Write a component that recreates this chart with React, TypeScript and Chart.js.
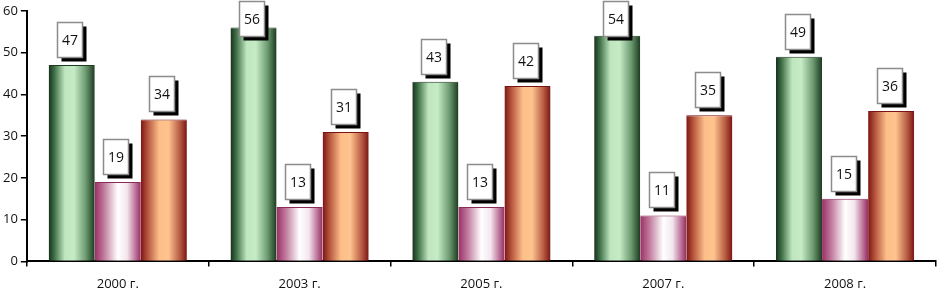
import React, { useEffect, useRef } from "react";
import { Chart, registerables } from "chart.js";

Chart.register(...registerables);

const categories = ["2000 г.", "2003 г.", "2005 г.", "2007 г.", "2008 г."];
const seriesGreen = [47, 56, 43, 54, 49];
const seriesPink = [19, 13, 13, 11, 15];
const seriesOrange = [34, 31, 42, 35, 36];

const FONT = "'Open Sans', 'Liberation Sans', sans-serif";

const gradientStops: [number, string][][] = [
  [
    [0, "#17301b"],
    [0.12, "#3d6e45"],
    [0.35, "#bfe6bf"],
    [0.55, "#c6ebc6"],
    [0.8, "#6e9c72"],
    [1, "#1c3a20"],
  ],
  [
    [0, "#9a2f65"],
    [0.2, "#c07a9c"],
    [0.5, "#ffffff"],
    [0.7, "#f3e6ee"],
    [0.9, "#b86a92"],
    [1, "#952d62"],
  ],
  [
    [0, "#7d1414"],
    [0.15, "#b5553d"],
    [0.4, "#fdbf8a"],
    [0.6, "#fec38e"],
    [0.85, "#b65a42"],
    [1, "#7a1414"],
  ],
];

const gradientPlugin = {
  id: "barGradients",
  beforeDatasetsDraw(chart: any) {
    const ctx = chart.ctx;
    chart.data.datasets.forEach((_: any, di: number) => {
      const meta = chart.getDatasetMeta(di);
      meta.data.forEach((el: any) => {
        const left = el.x - el.width / 2;
        const right = el.x + el.width / 2;
        const g = ctx.createLinearGradient(left, 0, right, 0);
        gradientStops[di].forEach(([p, c]) => g.addColorStop(p, c));
        el.options = { ...el.options, backgroundColor: g };
      });
    });
  },
};

const labelPlugin = {
  id: "boxLabels",
  afterDatasetsDraw(chart: any) {
    const ctx = chart.ctx;
    const bw = 25;
    const bh = 35;
    const sh = 4;
    ctx.save();
    chart.data.datasets.forEach((ds: any, di: number) => {
      const meta = chart.getDatasetMeta(di);
      meta.data.forEach((el: any, i: number) => {
        const v = ds.data[i];
        const cx = el.x - 2;
        let top = el.y - 43;
        if (top < 1) top = 1;
        const left = Math.round(cx - bw / 2) + 0.5;
        top = Math.round(top) + 0.5;
        ctx.fillStyle = "#000";
        ctx.fillRect(left + sh, top + sh, bw, bh);
        ctx.fillStyle = "#fff";
        ctx.fillRect(left, top, bw, bh);
        ctx.strokeStyle = "#8c8c8c";
        ctx.lineWidth = 1.5;
        ctx.strokeRect(left, top, bw, bh);
        ctx.fillStyle = "#111";
        ctx.font = `14px ${FONT}`;
        ctx.textAlign = "center";
        ctx.textBaseline = "middle";
        ctx.fillText(String(v), left + bw / 2, top + bh / 2 + 1);
      });
    });
    ctx.restore();
  },
};

export default function App() {
  const ref = useRef<HTMLCanvasElement | null>(null);
  useEffect(() => {
    document.body.style.margin = "0";
    const canvas = ref.current!;
    const mk = (data: number[], border: string) => ({
      data,
      backgroundColor: "#888",
      borderColor: border,
      borderWidth: { top: 1, left: 0, right: 0, bottom: 0 },
      borderSkipped: false,
      categoryPercentage: 0.76,
      barPercentage: 1,
    });
    const chart = new Chart(canvas, {
      type: "bar",
      data: {
        labels: categories,
        datasets: [
          mk(seriesGreen, "#1f3a22"),
          mk(seriesPink, "#8a2a5a"),
          mk(seriesOrange, "#7a1414"),
        ] as any,
      },
      options: {
        animation: false,
        responsive: false,
        layout: { padding: { top: 1, right: 3, left: 0, bottom: -10 } },
        plugins: { legend: { display: false }, tooltip: { enabled: false } },
        scales: {
          x: {
            grid: {
              offset: true,
              drawOnChartArea: false,
              drawTicks: true,
              tickLength: 5,
              color: "#000",
              lineWidth: 1.5,
            },
            border: { display: true, color: "#000", width: 2 },
            ticks: {
              color: "#111",
              font: { family: FONT, size: 13 },
              padding: 10,
              maxRotation: 0,
            },
          },
          y: {
            min: 0,
            max: 60,
            grid: {
              drawOnChartArea: false,
              drawTicks: true,
              tickLength: 6,
              color: "#000",
              lineWidth: 1.5,
            },
            border: { display: true, color: "#000", width: 2 },
            ticks: {
              stepSize: 10,
              color: "#111",
              font: { family: FONT, size: 13 },
              padding: 3,
            },
          },
        },
      },
      plugins: [gradientPlugin, labelPlugin],
    });
    return () => chart.destroy();
  }, []);
  return <canvas ref={ref} width={939} height={292} style={{ display: "block" }} />;
}
